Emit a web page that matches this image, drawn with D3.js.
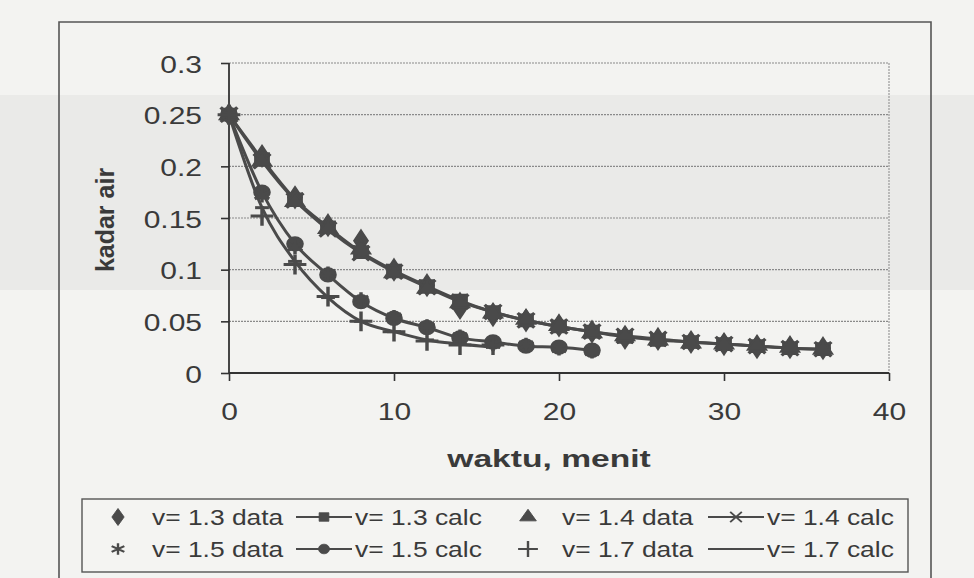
<!DOCTYPE html>
<meta charset="utf-8">
<style>
body { margin: 0; background: #f1f1ef; }
text { font-family: "Liberation Sans", Arial, sans-serif; fill: #3a3a3a; }
.grid line { stroke: #8a8a8a; stroke-width: 1.2px; stroke-dasharray: 2,1; }
.series path.line { fill: none; stroke: #4a4a4a; stroke-width: 3px; }
</style>
<body>
<svg width="974" height="578"></svg>
<script src="https://d3js.org/d3.v7.min.js"></script>
<script>

// values
var tLong  = [0,2,4,6,8,10,12,14,16,18,20,22,24,26,28,30,32,34,36];
var t15    = [0,2,4,6,8,10,12,14,16,18,20,22];
var t17    = [0,2,4,6,8,10,12,14,16];

var data13 = [0.25,0.21,0.17,0.143,0.128,0.1,0.085,0.063,0.056,0.051,0.046,0.04,0.034,0.033,0.03,0.028,0.025,0.025,0.024];
var calc13 = [0.25,0.207,0.168,0.141,0.117,0.099,0.084,0.070,0.059,0.051,0.045,0.040,0.035,0.032,0.030,0.028,0.026,0.024,0.023];
var data14 = [0.25,0.205,0.166,0.14,0.12,0.097,0.082,0.068,0.058,0.052,0.046,0.039,0.036,0.032,0.029,0.028,0.027,0.025,0.023];
var calc14 = [0.25,0.205,0.167,0.139,0.116,0.098,0.083,0.069,0.059,0.051,0.045,0.040,0.036,0.033,0.030,0.028,0.026,0.024,0.023];
var data15 = [0.25,0.172,0.122,0.096,0.071,0.054,0.045,0.035,0.028,0.027,0.024,0.021];
var calc15 = [0.25,0.175,0.125,0.095,0.069,0.053,0.044,0.034,0.030,0.026,0.025,0.022];
var data17 = [0.25,0.152,0.105,0.074,0.05,0.04,0.031,0.027,0.027];
var calc17 = [0.25,0.16,0.108,0.073,0.050,0.040,0.032,0.028,0.025];

var xTicks = [0,10,20,30,40];
var yTicks = [0,0.05,0.1,0.15,0.2,0.25,0.3];
var legendRows = [
  ["v= 1.3 data","v= 1.3 calc","v= 1.4 data","v= 1.4 calc"],
  ["v= 1.5 data","v= 1.5 calc","v= 1.7 data","v= 1.7 calc"]
];

var svg = d3.select("svg");
var ink = "#4a4a4a";
var sx = 1.25; // the scan is stretched sideways

// scan background band
svg.append("rect").attr("x",0).attr("y",0).attr("width",974).attr("height",578).attr("fill","#f3f3f1");
svg.append("rect").attr("x",0).attr("y",95).attr("width",974).attr("height",195).attr("fill","#eaeae8");

// outer chart border
svg.append("path")
    .attr("d","M59,578V22H931V578")
    .attr("fill","none").attr("stroke","#555").attr("stroke-width",1.6);

var x = d3.scaleLinear().domain([0,40]).range([229,889]);
var y = d3.scaleLinear().domain([0,0.3]).range([373,63]);

// grid
svg.append("g").attr("class","grid")
  .selectAll("line").data(yTicks.slice(1)).enter().append("line")
    .attr("x1",x(0)).attr("x2",x(40))
    .attr("y1",function(d){ return y(d); }).attr("y2",function(d){ return y(d); });
svg.append("line").attr("x1",x(40)).attr("x2",x(40)).attr("y1",y(0.3)).attr("y2",y(0))
    .attr("stroke","#999").attr("stroke-width",1.2).attr("stroke-dasharray","2,1");

// axes
var yAxis = svg.append("g").attr("transform","translate(" + x(0) + ",0)")
    .call(d3.axisLeft(y).tickValues(yTicks).tickSize(8).tickFormat(function(d){ return d; }));
var xAxis = svg.append("g").attr("transform","translate(0," + y(0) + ")")
    .call(d3.axisBottom(x).tickValues(xTicks).tickSize(8));
[xAxis, yAxis].forEach(function(a){
  a.select(".domain").attr("stroke","#333").attr("stroke-width",1.8);
  a.selectAll(".tick line").attr("stroke","#333").attr("stroke-width",1.6);
  a.selectAll(".tick text").attr("fill","#3a3a3a").attr("font-size",24)
    .attr("font-family","Liberation Sans, Arial, sans-serif");
});
yAxis.selectAll(".tick text").attr("x",null).attr("dy",null)
    .attr("transform","translate(-27,9) scale(" + sx + ",1)");
xAxis.selectAll(".tick text").attr("y",null).attr("dy",null)
    .attr("transform","translate(0,47) scale(" + sx + ",1)");
// keep the left/bottom domain ends flat
yAxis.select(".domain").attr("d","M0," + y(0.3) + "V" + y(0));
xAxis.select(".domain").attr("d","M" + x(0) + ",0H" + x(40));

// axis titles
svg.append("text").attr("text-anchor","middle").attr("font-weight","bold").attr("font-size",24)
    .attr("transform","translate(549,467) scale(1.4,1)")
    .text("waktu, menit");
svg.append("text").attr("text-anchor","middle").attr("font-weight","bold").attr("font-size",25)
    .attr("transform","translate(114,220) scale(1.05,1) rotate(-90)")
    .text("kadar air");

// marker shapes
var sym = {
  diamond:  d3.symbol().type(d3.symbolDiamond).size(130),
  square:   d3.symbol().type(d3.symbolSquare).size(150),
  triangle: d3.symbol().type(d3.symbolTriangle).size(120),
  circle:   d3.symbol().type(d3.symbolCircle).size(150),
  cross:    d3.symbol().type(d3.symbolX).size(140),
  star:     d3.symbol().type(d3.symbolAsterisk).size(150),
  plus:     d3.symbol().type(d3.symbolPlus).size(130),
  dash:     "M-6,0H6"
};
function markPath(k){ return typeof sym[k] === "string" ? sym[k] : sym[k](); }
function strokeOnly(k){ return k === "cross" || k === "star" || k === "plus" || k === "dash"; }

var series = [
  {t: tLong, v: calc13, line: true,  mark: "square"},
  {t: tLong, v: calc14, line: true,  mark: "cross"},
  {t: t15,   v: calc15, line: true,  mark: "circle"},
  {t: t17,   v: calc17, line: true,  mark: "dash"},
  {t: tLong, v: data13, line: false, mark: "diamond"},
  {t: tLong, v: data14, line: false, mark: "triangle"},
  {t: t15,   v: data15, line: false, mark: "star"},
  {t: t17,   v: data17, line: false, mark: "plus"}
];

var line = d3.line()
    .x(function(d){ return x(d[0]); })
    .y(function(d){ return y(d[1]); })
    .curve(d3.curveMonotoneX);

series.forEach(function(s){
  var pts = s.t.map(function(t,i){ return [t, s.v[i]]; });
  var g = svg.append("g").attr("class","series");
  if (s.line) g.append("path").attr("class","line").attr("d", line(pts));
  g.selectAll("path.m").data(pts).enter().append("path").attr("class","m")
      .attr("d", markPath(s.mark))
      .attr("transform", function(d){ return "translate(" + x(d[0]) + "," + y(d[1]) + ") scale(1.15,1)"; })
      .attr("fill", strokeOnly(s.mark) ? "none" : ink)
      .attr("stroke", ink)
      .attr("stroke-width", strokeOnly(s.mark) ? 3 : 1.5);
});

// legend
var lg = svg.append("g");
lg.append("rect").attr("x",82).attr("y",499).attr("width",826).attr("height",73)
    .attr("fill","#f4f4f2").attr("stroke","#555").attr("stroke-width",1.4);
var legMarks = [["diamond","square","triangle","cross"],["star","circle","plus","dash"]];
var rowY = [517, 549];
var colMark = [118, 324, 528, 736];
var colText = [152, 355, 562, 767];
legendRows.forEach(function(row, r){
  row.forEach(function(label, c){
    var isLine = c % 2 === 1;
    var k = legMarks[r][c];
    if (isLine) {
      lg.append("line").attr("x1", colMark[c] - 28).attr("x2", colMark[c] + 28)
        .attr("y1", rowY[r]).attr("y2", rowY[r])
        .attr("stroke", ink).attr("stroke-width", 2.2);
    }
    lg.append("path").attr("d", markPath(k))
      .attr("transform","translate(" + colMark[c] + "," + rowY[r] + ") scale(" + (isLine ? 0.8 : 1.0) + "," + (isLine ? 0.7 : 0.8) + ")")
      .attr("fill", strokeOnly(k) ? "none" : ink)
      .attr("stroke", ink).attr("stroke-width", strokeOnly(k) ? 2.4 : 1);
    lg.append("text").attr("font-size",22)
      .attr("transform","translate(" + colText[c] + "," + (rowY[r] + 8) + ") scale(1.2,1)")
      .text(label);
  });
});

</script>
</body>
